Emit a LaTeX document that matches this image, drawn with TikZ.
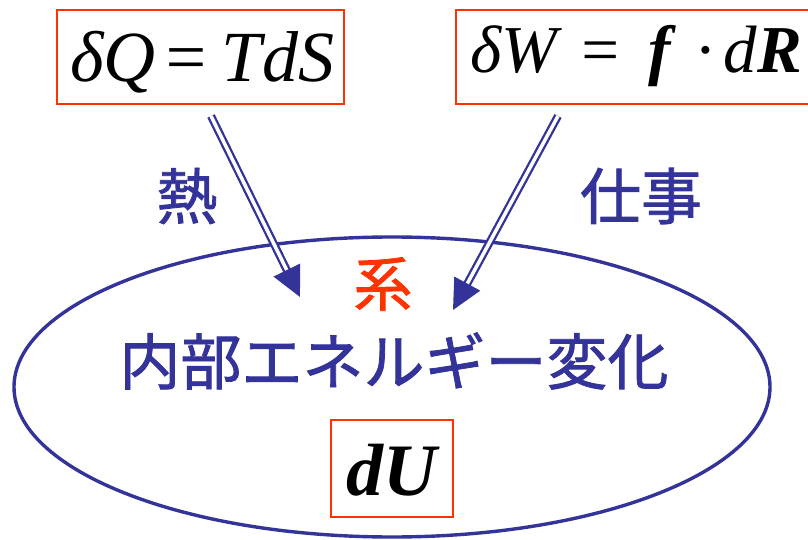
\documentclass[tikz,border=0pt]{standalone}
\usepackage{fontspec}
\setmainfont{Liberation Serif}
\newfontfamily\jp[FakeBold=1.3]{Noto Sans CJK JP}
\usetikzlibrary{arrows.meta,shapes.geometric}
\definecolor{dblue}{HTML}{333399}
\definecolor{ored}{HTML}{FF3300}
\begin{document}
\begin{tikzpicture}[x=1pt,y=-1pt,
  eqbox/.style={draw=ored, line width=2pt, inner sep=0pt, font=\fontsize{72}{74}\selectfont\itshape},
  jplabel/.style={text=dblue, inner sep=0pt, font=\jp\fontsize{61}{64}\selectfont},
  flow/.style={draw=dblue, line width=2.3pt, double=white, double distance=3.5pt,
    -{Triangle[length=30pt,width=29pt,fill=dblue]}}]
\useasboundingbox (0,0) rectangle (808,540);
\node[eqbox, text height=72pt, text depth=22pt] (heat) at (200.5,57)
  {\hbox to 287pt{\hskip13pt\makebox[92pt][l]{δQ}\kern5pt\makebox[38pt][c]{=}\kern17pt\makebox[101pt][l]{TdS}\hfil}};
\node[eqbox, font=\fontsize{67}{69}\selectfont\itshape, text height=63pt, text depth=31pt] (work) at (633,57)
  {\hbox to 354pt{\hskip14pt\makebox[98pt][l]{δW}\kern15pt\makebox[34pt][c]{=}\kern23pt\makebox[40pt][c]{\textbf{f}}\kern18pt\makebox[14pt][c]{·}\kern12pt d\textbf{R}\hfil}};
\node[draw=dblue, line width=3.4pt, ellipse, inner sep=0pt, minimum width=756pt, minimum height=300pt] (sys) at (392,387) {};
\node[eqbox, font=\fontsize{74}{76}\selectfont\bfseries\itshape, text height=75pt, text depth=22pt] (dU) at (392,468.5)
  {\hbox to 122pt{\hfil dU\hfil}};
\node[jplabel] (netsu) at (187,196) {熱};
\node[jplabel] (shigoto) at (641,196) {仕事};
\node[jplabel, text=ored, font=\jp\fontsize{59}{62}\selectfont] (kei) at (383,284) {系};
\node[jplabel] (naibu) at (394,361) {内部エネルギー変化};
\coordinate (hs) at (211,116);
\coordinate (ht) at (300,297);
\coordinate (ws) at (558,116);
\coordinate (wt) at (453,310);
\draw[flow] (hs) -- (ht);
\draw[flow] (ws) -- (wt);
\end{tikzpicture}
\end{document}
